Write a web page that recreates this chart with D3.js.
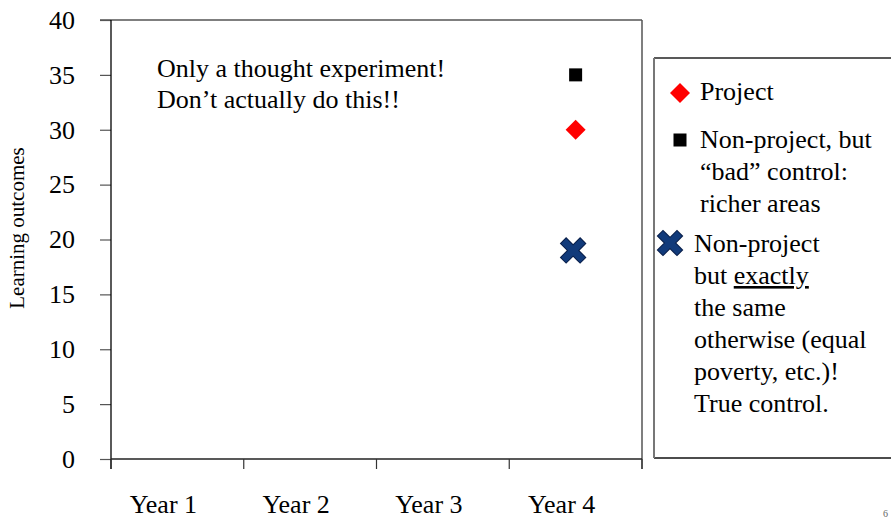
<!DOCTYPE html>
<html>
<head>
<meta charset="utf-8">
<script src="https://cdn.jsdelivr.net/npm/d3@7"></script>
<style>
  html, body { margin: 0; padding: 0; background: #fff; }
  svg { display: block; }
  svg text { font-family: "Times New Roman", Times, "Liberation Serif", "DejaVu Serif", serif; }
</style>
</head>
<body>
<svg id="chart" width="891" height="520"></svg>
<script>
// Categories and values
const years = ["Year 1", "Year 2", "Year 3", "Year 4"];
const yTicks = [0, 5, 10, 15, 20, 25, 30, 35, 40];
const seriesNames = ["Project", "Non-project, but bad control", "Non-project, true control"];
const seriesYear = ["Year 4", "Year 4", "Year 4"];
const seriesValues = [30, 35, 19];
const seriesSymbols = ["diamond", "square", "cross"];

const FONT = '"Times New Roman", Times, "Liberation Serif", "DejaVu Serif", serif';
const FS = 26;

const svg = d3.select("#chart");
const plot = { left: 111, right: 642, top: 20, bottom: 459 };

const x = d3.scaleBand().domain(years).range([plot.left, plot.right]).padding(0);
const y = d3.scaleLinear().domain([0, 40]).range([plot.bottom, plot.top]);

// Frame: top and right borders
svg.append("line").attr("x1", plot.left - 11).attr("x2", plot.right)
  .attr("y1", plot.top).attr("y2", plot.top).attr("stroke", "#555").attr("stroke-width", 1.5);
svg.append("line").attr("x1", plot.right).attr("x2", plot.right)
  .attr("y1", plot.top).attr("y2", plot.bottom + 10).attr("stroke", "#555").attr("stroke-width", 1.5);

// Y axis
const yAxis = svg.append("g").attr("transform", `translate(${plot.left},0)`)
  .call(d3.axisLeft(y).tickValues(yTicks).tickSize(11).tickPadding(25))
  .attr("font-family", FONT);
yAxis.select(".domain").remove();
yAxis.selectAll(".tick line").attr("stroke", "#555").attr("stroke-width", 1.2);
yAxis.selectAll(".tick text").attr("font-size", FS).attr("fill", "#000");
svg.append("line").attr("x1", plot.left).attr("x2", plot.left)
  .attr("y1", plot.top).attr("y2", plot.bottom + 10).attr("stroke", "#000").attr("stroke-width", 1.3);

// X axis: ticks at band boundaries
const bounds = years.map(d => x(d)).concat([plot.right]);
svg.append("line").attr("x1", plot.left).attr("x2", plot.right)
  .attr("y1", plot.bottom).attr("y2", plot.bottom).attr("stroke", "#222").attr("stroke-width", 1.5);
svg.selectAll(".xtick").data(bounds).enter().append("line")
  .attr("x1", d => d).attr("x2", d => d)
  .attr("y1", plot.bottom).attr("y2", plot.bottom + 10)
  .attr("stroke", "#333").attr("stroke-width", 1.2);
svg.selectAll(".xlabel").data(years).enter().append("text")
  .attr("x", d => x(d) + x.bandwidth() / 2 - 14)
  .attr("y", 513)
  .attr("text-anchor", "middle")
  .attr("font-size", FS)
  .text(d => d);

// Y title
svg.append("text")
  .attr("transform", "translate(24,228) rotate(-90)")
  .attr("text-anchor", "middle")
  .attr("font-size", 21)
  .text("Learning outcomes");

// Annotation
const note = svg.append("text").attr("font-size", FS);
note.append("tspan").attr("x", 157).attr("y", 77).text("Only a thought experiment!");
note.append("tspan").attr("x", 157).attr("y", 108).text("Don\u2019t actually do this!!");

// Marker drawing
function drawMarker(g, type, cx, cy, scale) {
  if (type === "diamond") {
    const r = 10 * scale;
    g.append("path")
      .attr("d", `M${cx},${cy - r}L${cx + r},${cy}L${cx},${cy + r}L${cx - r},${cy}Z`)
      .attr("fill", "#ff0000");
  } else if (type === "square") {
    const s = 13 * scale;
    g.append("rect").attr("x", cx - s / 2).attr("y", cy - s / 2)
      .attr("width", s).attr("height", s).attr("fill", "#000");
  } else {
    const a = 7 * scale;
    const d = `M${cx - a},${cy - a}L${cx + a},${cy + a}M${cx + a},${cy - a}L${cx - a},${cy + a}`;
    g.append("path").attr("d", d)
      .attr("stroke", "#0a1f4a").attr("stroke-width", 9 * scale)
      .attr("stroke-linecap", "square").attr("fill", "none");
    g.append("path").attr("d", d)
      .attr("stroke", "#113a7a").attr("stroke-width", 7 * scale)
      .attr("stroke-linecap", "square").attr("fill", "none");
  }
}

// Data points
const pts = svg.append("g");
seriesValues.forEach((v, i) => {
  const cx = x(seriesYear[i]) + x.bandwidth() / 2 - (seriesSymbols[i] === "cross" ? 2.5 : 0);
  drawMarker(pts, seriesSymbols[i], cx, y(v), 1);
});

// Legend box
const lg = svg.append("g");
lg.append("line").attr("x1", 654).attr("x2", 891).attr("y1", 58).attr("y2", 58)
  .attr("stroke", "#222").attr("stroke-width", 1.5);
lg.append("line").attr("x1", 654).attr("x2", 891).attr("y1", 458).attr("y2", 458)
  .attr("stroke", "#111").attr("stroke-width", 1.5);
lg.append("line").attr("x1", 654).attr("x2", 654).attr("y1", 58).attr("y2", 458)
  .attr("stroke", "#777").attr("stroke-width", 2);

const legendText = svg.append("g").attr("font-size", FS);
drawMarker(lg, seriesSymbols[0], 680, 93, 1);
legendText.append("text").attr("x", 700).attr("y", 100).text("Project");

drawMarker(lg, seriesSymbols[1], 680, 140, 1);
const t2 = legendText.append("text");
t2.append("tspan").attr("x", 700).attr("y", 148).text("Non-project, but");
t2.append("tspan").attr("x", 700).attr("y", 180).text("\u201Cbad\u201D control:");
t2.append("tspan").attr("x", 700).attr("y", 212).text("richer areas");

drawMarker(lg, seriesSymbols[2], 670, 243, 1);
const t3 = legendText.append("text");
t3.append("tspan").attr("x", 694).attr("y", 252).text("Non-project");
t3.append("tspan").attr("x", 694).attr("y", 284).text("but ");
t3.append("tspan").attr("text-decoration", "underline").text("exactly");
t3.append("tspan").attr("x", 694).attr("y", 316).text("the same");
t3.append("tspan").attr("x", 694).attr("y", 348).text("otherwise (equal");
t3.append("tspan").attr("x", 694).attr("y", 380).text("poverty, etc.)!");
t3.append("tspan").attr("x", 694).attr("y", 412).text("True control.");

// Slide number in the corner
svg.append("text").attr("x", 883).attr("y", 517).attr("font-size", 10)
  .attr("fill", "#666").text("6");
</script>
</body>
</html>
